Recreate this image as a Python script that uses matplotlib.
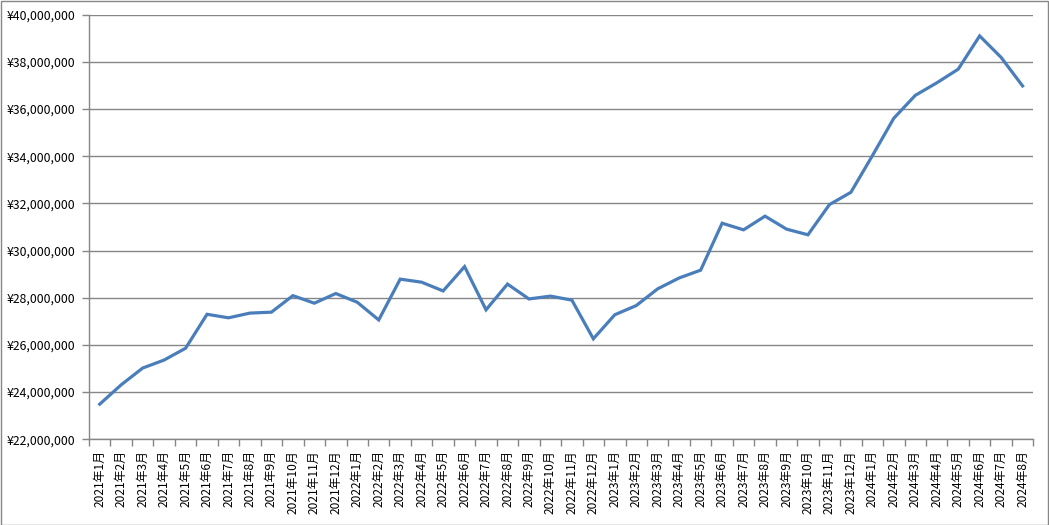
import matplotlib
matplotlib.use("Agg")
import matplotlib.pyplot as plt
from matplotlib.ticker import FuncFormatter, MultipleLocator
from matplotlib.patches import Rectangle

plt.rcParams['font.family'] = ['Noto Sans CJK JP', 'DejaVu Sans']

months = [f"{y}年{m}月" for y in (2021, 2022, 2023) for m in range(1, 13)] + \
         [f"2024年{m}月" for m in range(1, 9)]

values = [
    23.49, 24.31, 25.02, 25.36, 25.86, 27.30, 27.15, 27.35, 27.39, 28.09,
    27.77, 28.18, 27.81, 27.06, 28.79, 28.66, 28.29, 29.32, 27.49, 28.58,
    27.95, 28.07, 27.90, 26.26, 27.28, 27.67, 28.38, 28.84, 29.17, 31.16,
    30.88, 31.46, 30.91, 30.67, 31.95, 32.47, 34.02, 35.61, 36.58, 37.11,
    37.69, 39.10, 38.19, 36.98,
]
values = [v * 1_000_000 for v in values]

W, H = 1049, 525
fig = plt.figure(figsize=(W / 100, H / 100), dpi=100)
left, right, top, bottom = 89, 1033.3, 14.7, 439.3
ax = fig.add_axes([left / W, 1 - bottom / H, (right - left) / W, (bottom - top) / H])

x = list(range(len(months)))
ax.plot(x, values, color='#4A7EBB', linewidth=2.3, solid_joinstyle='miter', zorder=3)

ax.set_xlim(-0.5, len(months) - 0.5)
ax.set_ylim(22_000_000, 40_000_000)
ax.yaxis.set_major_locator(MultipleLocator(2_000_000))
ax.yaxis.set_major_formatter(FuncFormatter(lambda v, p: f"¥{int(v):,}"))
ax.grid(axis='y', color='#868686', linewidth=1.0, zorder=1)

ax.set_xticks(x)
ax.set_xticklabels(months, rotation=90, fontsize=8.6, va='top')
ax.set_xticks([i - 0.5 for i in range(len(months) + 1)], minor=True)
ax.tick_params(axis='x', which='major', length=0, pad=8)
ax.tick_params(axis='x', which='minor', length=5, color='#868686', width=1)
ax.tick_params(axis='y', length=5, color='#868686', width=1, labelsize=8.8, pad=5)

for s in ('top', 'right'):
    ax.spines[s].set_visible(False)
for s in ('left', 'bottom'):
    ax.spines[s].set_color('#868686')
    ax.spines[s].set_linewidth(1.0)

fig.patches.append(Rectangle((0.5 / W, 0.5 / H), (W - 1.5) / W, (H - 1.5) / H,
                             transform=fig.transFigure, fill=False,
                             edgecolor='#868686', linewidth=1.0))

fig.savefig("out.png", dpi=100)
